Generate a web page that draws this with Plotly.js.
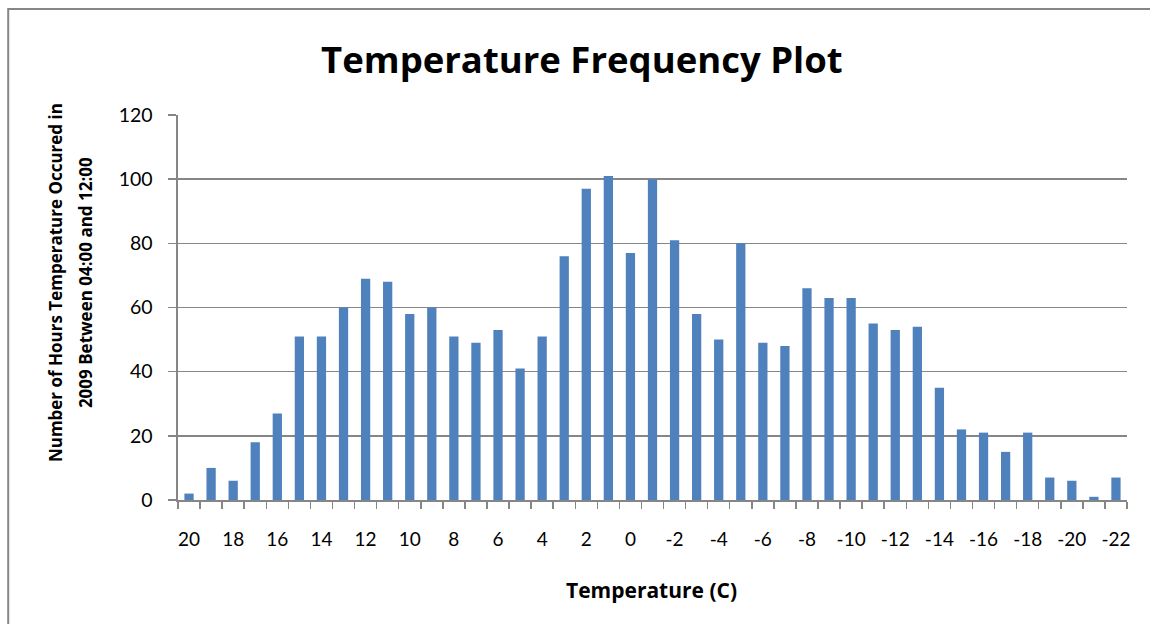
<!DOCTYPE html>
<html>
<head>
<meta charset="utf-8">
<script src="https://cdn.plot.ly/plotly-3.0.1.min.js"></script>
<style>
  html, body { margin: 0; padding: 0; background: #ffffff; }
  #chart { width: 1150px; height: 624px; }
</style>
</head>
<body>
<div id="chart"></div>
<script>
// Temperature bins (deg C), warmest first
const temperatures = [20, 19, 18, 17, 16, 15, 14, 13, 12, 11, 10, 9, 8, 7, 6, 5, 4, 3, 2, 1, 0,
  -1, -2, -3, -4, -5, -6, -7, -8, -9, -10, -11, -12, -13, -14, -15, -16, -17, -18, -19, -20, -21, -22];

// Hours in 2009 (04:00-12:00) at each temperature
const hours = [2, 10, 6, 18, 27, 51, 51, 60, 69, 68, 58, 60, 51, 49, 53, 41, 51, 76, 97, 101, 77,
  100, 81, 58, 50, 80, 49, 48, 66, 63, 63, 55, 53, 54, 35, 22, 21, 15, 21, 7, 6, 1, 7];

// Only every second temperature gets a label
const labelledTemperatures = temperatures.filter(t => t % 2 === 0);

const slot = temperatures.map((t, i) => i);
const tickPositions = labelledTemperatures.map(t => temperatures.indexOf(t));
const boundaries = temperatures.concat([null]).map((t, i) => i - 0.5);

const gridGrey = '#868686';
const tickFontFamily = 'Lato, "Open Sans", sans-serif';
const titleFontFamily = '"Open Sans", Lato, sans-serif';

const trace = {
  type: 'bar',
  x: slot,
  y: hours,
  marker: { color: '#4F81BD', line: { width: 0 } },
  hovertext: temperatures.map(String),
  hoverinfo: 'text+y'
};

const layout = {
  width: 1150,
  height: 624,
  margin: { l: 178, r: 23, t: 115, b: 124 },
  paper_bgcolor: '#ffffff',
  plot_bgcolor: '#ffffff',
  showlegend: false,
  bargap: 0.58,
  font: { family: tickFontFamily, color: '#000000' },
  title: {
    text: '<b>Temperature Frequency Plot</b>',
    font: { family: titleFontFamily, size: 36.5, color: '#000000' },
    x: 0.506, xref: 'container', xanchor: 'center',
    y: 0.903, yref: 'container', yanchor: 'middle'
  },
  xaxis: {
    range: [-0.5, temperatures.length - 0.5],
    tickmode: 'array',
    tickvals: tickPositions,
    ticktext: labelledTemperatures.map(String),
    ticks: '',
    ticklabelstandoff: 22,
    tickfont: { family: tickFontFamily, size: 19, color: '#000000' },
    showline: true,
    linecolor: gridGrey,
    linewidth: 1.5,
    showgrid: false,
    zeroline: false,
    minor: {
      tickmode: 'array',
      tickvals: boundaries,
      ticks: 'outside',
      ticklen: 7,
      tickwidth: 1.5,
      tickcolor: gridGrey,
      showgrid: false
    },
    fixedrange: true
  },
  yaxis: {
    range: [0, 120],
    tickmode: 'linear',
    tick0: 0,
    dtick: 20,
    ticks: 'outside',
    ticklen: 8,
    tickwidth: 1.5,
    tickcolor: gridGrey,
    ticklabelstandoff: 11,
    tickfont: { family: tickFontFamily, size: 19.5, color: '#000000' },
    showgrid: true,
    gridcolor: gridGrey,
    gridwidth: 1.5,
    showline: true,
    linecolor: gridGrey,
    linewidth: 2.5,
    zeroline: false,
    fixedrange: true
  },
  annotations: [
    {
      text: '<b>Number of Hours Temperature Occured in</b>',
      xref: 'paper', yref: 'paper', x: -0.1295, y: 0.5636,
      xanchor: 'center', yanchor: 'middle', textangle: -90, showarrow: false,
      font: { family: titleFontFamily, size: 17, color: '#000000' }
    },
    {
      text: '<b>2009 Between 04:00 and 12:00</b>',
      xref: 'paper', yref: 'paper', x: -0.0979, y: 0.5636,
      xanchor: 'center', yanchor: 'middle', textangle: -90, showarrow: false,
      font: { family: titleFontFamily, size: 17, color: '#000000' }
    },
    {
      text: '<b>Temperature (C)</b>',
      xref: 'paper', yref: 'paper', x: 0.499, y: -0.2338,
      xanchor: 'center', yanchor: 'middle', showarrow: false,
      font: { family: titleFontFamily, size: 21, color: '#000000' }
    }
  ],
  shapes: [
    {
      // chart frame
      type: 'rect', xref: 'paper', yref: 'paper',
      x0: -0.1789, x1: 1.04, y0: -0.36, y1: 1.2753,
      line: { color: gridGrey, width: 2 },
      fillcolor: 'rgba(0,0,0,0)',
      layer: 'below'
    }
  ]
};

Plotly.newPlot('chart', [trace], layout, { displayModeBar: false, staticPlot: true });
</script>
</body>
</html>
